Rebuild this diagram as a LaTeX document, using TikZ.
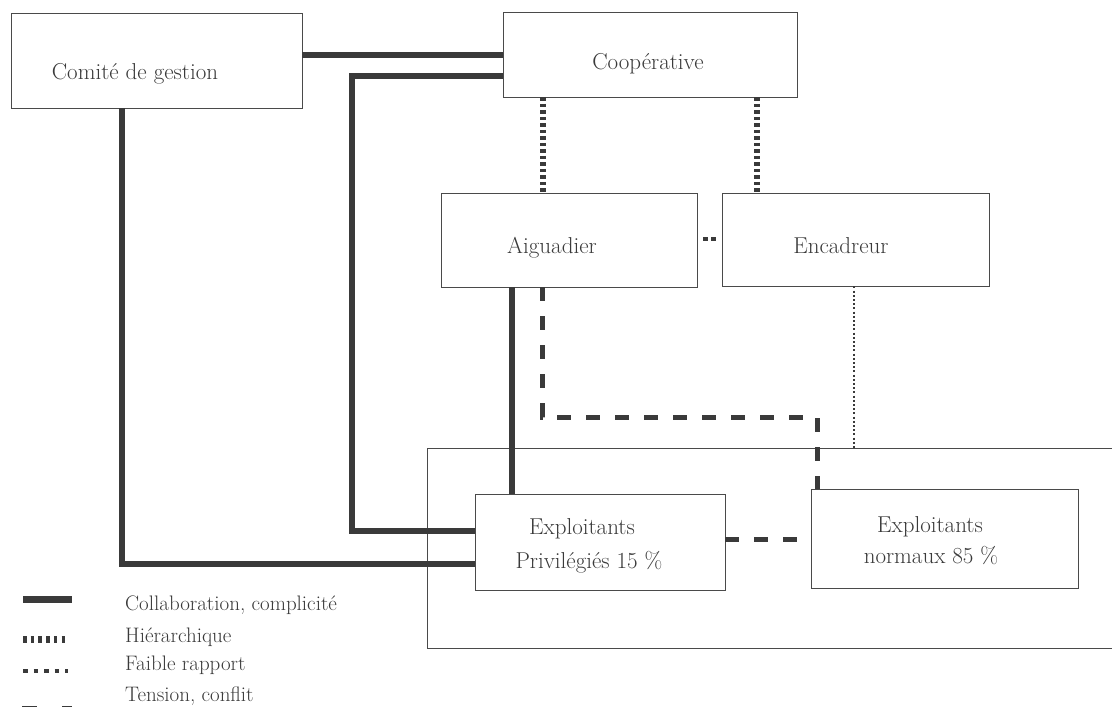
\documentclass[tikz,border=0pt]{standalone}
\usepackage{fontspec}
\definecolor{ink}{HTML}{3A3A3A}
\definecolor{thinink}{HTML}{4A4A4A}
\begin{document}
\begin{tikzpicture}[x=1pt,y=-1pt,
  box/.style={draw=thinink, line width=0.9pt, rectangle, inner sep=0pt},
  lbl/.style={inner sep=0pt, anchor=base, text=ink, font=\fontsize{23}{27}\selectfont},
  leg/.style={inner sep=0pt, anchor=base west, text=ink, font=\fontsize{21}{25}\selectfont},
  relcollab/.style={draw=ink, line width=6pt},
  relhier/.style={draw=ink, line width=6.5pt, dash pattern=on 3.5pt off 3pt},
  relfaible/.style={draw=ink, line width=4.5pt, dash pattern=on 4.5pt off 6pt},
  reltension/.style={draw=ink, line width=5pt, dash pattern=on 14pt off 15pt},
  relthindot/.style={draw=ink, line width=2.2pt, dash pattern=on 2pt off 2.2pt}]
\useasboundingbox (0,0) rectangle (1112,707);
\fill[white] (0,0) rectangle (1112,707);

% boxes
\node[box, minimum width=291pt, minimum height=95pt] (comite) at (156.5,60.5) {};
\node[box, minimum width=294pt, minimum height=85pt] (coop) at (650,54.5) {};
\node[box, minimum width=256pt, minimum height=94pt] (aig) at (569,240) {};
\node[box, minimum width=267pt, minimum height=93pt] (enc) at (855.5,239.5) {};
\node[box, minimum width=693pt, minimum height=200pt] (group) at (773.5,548) {};
\node[box, fill=white, minimum width=250pt, minimum height=96pt] (priv) at (600,542) {};
\node[box, fill=white, minimum width=267pt, minimum height=99pt] (norm) at (944.5,538.5) {};

% texts
\node[lbl] (comite-t) at (135,79) {Comité de gestion};
\node[lbl] (coop-t) at (648,69) {Coopérative};
\node[lbl] (aig-t) at (552,253) {Aiguadier};
\node[lbl] (enc-t) at (841,253) {Encadreur};
\node[lbl] (priv-t1) at (582,534) {Exploitants};
\node[lbl] (priv-t2) at (589,568) {Privilégiés 15 \%};
\node[lbl] (norm-t1) at (930,532) {Exploitants};
\node[lbl] (norm-t2) at (931,563) {normaux 85 \%};

% helper coordinates
\coordinate (c1) at (0,55);
\coordinate (c2) at (352,76);
\coordinate (c3) at (0,531);
\coordinate (c4) at (122,564);
\coordinate (c5) at (512,0);
\coordinate (h1) at (543,0);
\coordinate (h2) at (757,0);
\coordinate (f1) at (0,239);
\coordinate (t1) at (542,417);
\coordinate (t2) at (817,417);
\coordinate (t3) at (0,539);
\coordinate (d1) at (854,0);

% collaboration
\draw[relcollab] (comite.east |- c1) -- (coop.west |- c1);
\draw[relcollab] (coop.west |- c2) -- (c2) |- (priv.west |- c3);
\draw[relcollab] (comite.south -| c4) -- (c4) -- (priv.west |- c4);
\draw[relcollab] (aig.south -| c5) -- (priv.north -| c5);

% hierarchy
\draw[relhier] (coop.south -| h1) -- (aig.north -| h1);
\draw[relhier] (coop.south -| h2) -- (enc.north -| h2);

% weak relation
\draw[relfaible, dash pattern=on 0pt off 6pt on 5pt off 3pt on 5pt off 10pt] (aig.east |- f1) -- (enc.west |- f1);
\draw[relthindot] (enc.south -| d1) -- (group.north -| d1);

% tension
\draw[reltension] (aig.south -| t1) -- (t1) -- (t2) -- (norm.north -| t2);
\draw[reltension] (priv.east |- t3) -- (norm.west |- t3);

% legend
\draw[relcollab, line width=7pt] (23,599) -- (72,599);
\draw[draw=ink, line width=7pt, dash pattern=on 3.5pt off 4.2pt] (23,639) -- (68,639);
\draw[relfaible] (23,671) -- (68,671);
\draw[draw=ink, line width=7pt, dash pattern=on 15pt off 25pt] (22,709) -- (72,709);
\node[leg] (leg1) at (125,610) {Collaboration, complicité};
\node[leg] (leg2) at (125,642) {Hiérarchique};
\node[leg] (leg3) at (125,670) {Faible rapport};
\node[leg] (leg4) at (125,701) {Tension, conflit};
\end{tikzpicture}
\end{document}
